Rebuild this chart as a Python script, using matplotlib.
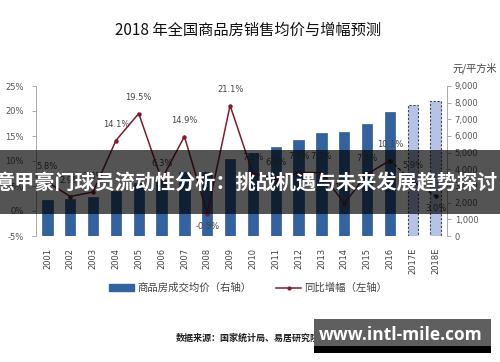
import matplotlib
matplotlib.use('Agg')
import matplotlib.pyplot as plt
from matplotlib.patches import Rectangle, Patch
from matplotlib.lines import Line2D
import numpy as np

CJK = ['Noto Sans CJK SC', 'DejaVu Sans']
plt.rcParams['font.family'] = CJK

years = ['2001', '2002', '2003', '2004', '2005', '2006', '2007', '2008', '2009',
         '2010', '2011', '2012', '2013', '2014', '2015', '2016', '2017E', '2018E']
price = [2170, 2250, 2320, 2700, 3170, 3370, 3860, 3830, 4650,
         5000, 5330, 5740, 6180, 6270, 6750, 7420, 7850, 8100]
growth = [5.8, 2.9, 3.8, 14.1, 19.5, 6.3, 14.9, -0.5, 21.1,
          7.5, 6.5, 7.7, 7.7, 1.5, 7.4, 10.1, 5.9, 3.0]
forecast = [False] * 16 + [True, True]
left_ticks = [-5, 0, 5, 10, 15, 20, 25]
right_ticks = [0, 1000, 2000, 3000, 4000, 5000, 6000, 7000, 8000, 9000]

title = '2018 年全国商品房销售均价与增幅预测'
unit = '元/平方米'
bar_name = '商品房成交均价（右轴）'
line_name = '同比增幅（左轴）'
source = '数据来源：国家统计局、易居研究院'
banner = '意甲豪门球员流动性分析：挑战机遇与未来发展趋势探讨'
watermark = 'www.intl-mile.com'

W, H = 500, 362
fig = plt.figure(figsize=(W / 100, H / 100), dpi=100)
fig.patch.set_facecolor('white')

ax = fig.add_axes([36 / W, 1 - 236 / H, 411 / W, 150 / H])
ax2 = ax.twinx()
x = np.arange(len(years))

bar_col = '#3263A0'
for i in range(len(years)):
    if forecast[i]:
        ax2.bar(x[i], price[i], width=0.45, color='#B5C3E8', edgecolor='#444444',
                linestyle=(0, (2, 1.5)), linewidth=0.8)
    else:
        ax2.bar(x[i], price[i], width=0.45, color=bar_col, edgecolor='#24466f', linewidth=0.4)

ax2.set_ylim(0, 9000)
ax2.set_yticks(right_ticks)
ax2.set_yticklabels([f'{v:,}' for v in right_ticks], fontsize=6, color='#555555',
                    family='DejaVu Sans')
ax2.tick_params(axis='y', length=3, width=0.6, color='#999999', pad=2.5)

ax.set_zorder(ax2.get_zorder() + 1)
ax.patch.set_visible(False)

line_col = '#7E1B2C'
n_actual = 16
ax.plot(x[:n_actual], growth[:n_actual], color=line_col, linewidth=1.1,
        marker='o', markersize=2.2, zorder=5)
ax.plot(x[n_actual - 1:], growth[n_actual - 1:], color='#3a1e24', linewidth=1.0,
        linestyle=(0, (2.5, 1.5)), marker='o', markersize=2.2, zorder=5)

for i, g in enumerate(growth):
    dy = 8
    va = 'bottom'
    if g < 0 or i == len(growth) - 1:
        dy = -6
        va = 'top'
    ax.annotate(f'{g:.1f}%', (x[i], g), xytext=(0, dy), textcoords='offset points',
                ha='center', va=va, fontsize=6, color='#444444', family='DejaVu Sans')

ax.set_xlim(-0.5, len(years) - 0.5)
ax.set_ylim(-5, 25)
ax.set_yticks(left_ticks)
ax.set_yticklabels([f'{v}%' for v in left_ticks], fontsize=6, color='#555555',
                   family='DejaVu Sans')
ax.tick_params(axis='y', length=3, width=0.6, color='#999999', pad=6)
ax.set_xticks(x)
ax.set_xticklabels(years, rotation=90, fontsize=6, color='#444444', family='DejaVu Sans')
ax.tick_params(axis='x', length=0, pad=8.5)
ax2.tick_params(axis='x', length=0)

for a in (ax, ax2):
    a.spines['top'].set_visible(False)
    a.spines['bottom'].set_visible(False)
ax.spines['right'].set_visible(False)
ax2.spines['left'].set_visible(False)
ax.spines['left'].set_color('#aaaaaa')
ax.spines['left'].set_linewidth(0.7)
ax2.spines['right'].set_color('#aaaaaa')
ax2.spines['right'].set_linewidth(0.7)

fig.text(248 / W, 1 - 30 / H, title, ha='center', va='center', fontsize=11, color='#111111')
fig.text(452 / W, 1 - 68 / H, unit, ha='left', va='center', fontsize=7.3, color='#444444')

handles = [Patch(facecolor=bar_col, edgecolor=bar_col),
           Line2D([0], [0], color=line_col, linewidth=1.1, marker='o', markersize=2)]
fig.legend(handles, [bar_name, line_name], loc='center', bbox_to_anchor=(248 / W, 1 - 288 / H),
           ncol=2, frameon=False, fontsize=7.5, handlelength=2.4, handletextpad=0.25,
           columnspacing=2.4, handleheight=0.6, labelcolor='#444444')

fig.text(176 / W, 1 - 338 / H, source, ha='left', va='center', fontsize=6.5,
         color='#222222', fontweight='bold')

# overlay banner
fig.add_artist(Rectangle((0, 1 - 214 / H), 1, 64 / H, transform=fig.transFigure,
                         facecolor='black', alpha=0.67, edgecolor='none', zorder=10))
fig.text(245.5 / W, 1 - 183 / H, banner, ha='center', va='center', fontsize=14.5,
         color='white', fontweight='bold', zorder=11)

# watermark box
fig.add_artist(Rectangle((314 / W, 1 - 353 / H), 177 / W, 34 / H, transform=fig.transFigure,
                         facecolor='#5f5f5f', edgecolor='none', zorder=10))
fig.add_artist(Rectangle((314 / W, 1 - 353 / H), 177 / W, 7 / H, transform=fig.transFigure,
                         facecolor='black', edgecolor='none', zorder=10))
fig.text(401 / W, 1 - 335 / H, watermark, ha='center', va='center', fontsize=12.5,
         color='white', fontweight='bold', family='Open Sans', zorder=11)

fig.savefig('out.png', dpi=100)
